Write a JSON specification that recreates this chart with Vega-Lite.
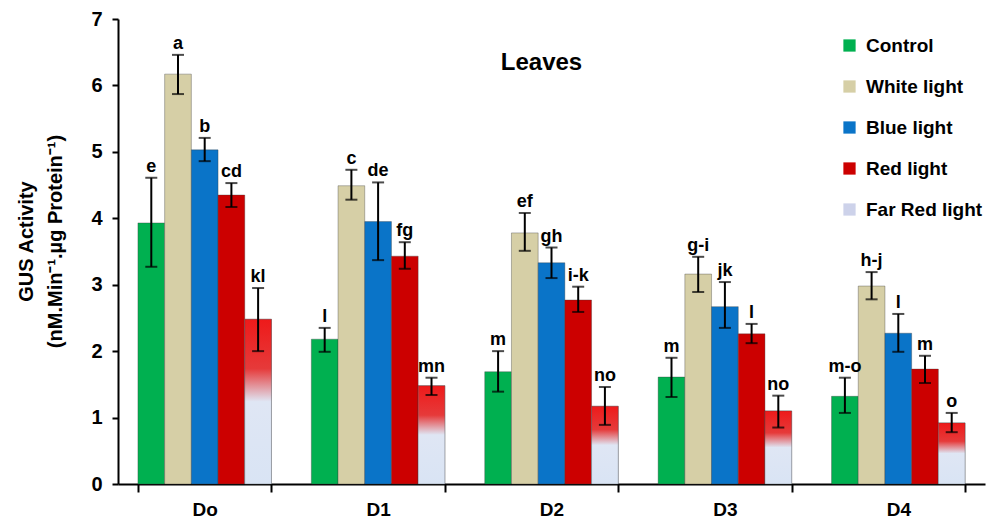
{
  "$schema": "https://vega.github.io/schema/vega-lite/v6.json",
  "width": 867,
  "height": 465,
  "autosize": {"type": "none"},
  "padding": {"left": 118, "top": 19, "right": 1, "bottom": 36},
  "background": "white",
  "config": {"view": {"stroke": null}, "font": "Liberation Sans"},
  "title": {"text": "Leaves", "fontSize": 24, "fontWeight": "bold", "font": "Liberation Sans", "color": "black", "anchor": "middle", "dy": 66, "dx": -10, "offset": 0},
  "data": {"values": [
    {"day": "Do", "treat": "Control", "v": 3.93, "lo": 3.27, "hi": 4.61, "lab": "e"},
    {"day": "Do", "treat": "White light", "v": 6.17, "lo": 5.87, "hi": 6.46, "lab": "a"},
    {"day": "Do", "treat": "Blue light", "v": 5.03, "lo": 4.86, "hi": 5.21, "lab": "b"},
    {"day": "Do", "treat": "Red light", "v": 4.35, "lo": 4.17, "hi": 4.53, "lab": "cd"},
    {"day": "Do", "treat": "Far Red light", "v": 2.48, "lo": 2.0, "hi": 2.95, "lab": "kl"},
    {"day": "D1", "treat": "Control", "v": 2.18, "lo": 1.99, "hi": 2.35, "lab": "l"},
    {"day": "D1", "treat": "White light", "v": 4.49, "lo": 4.28, "hi": 4.73, "lab": "c"},
    {"day": "D1", "treat": "Blue light", "v": 3.95, "lo": 3.37, "hi": 4.54, "lab": "de"},
    {"day": "D1", "treat": "Red light", "v": 3.43, "lo": 3.24, "hi": 3.64, "lab": "fg"},
    {"day": "D1", "treat": "Far Red light", "v": 1.48, "lo": 1.34, "hi": 1.6, "lab": "mn"},
    {"day": "D2", "treat": "Control", "v": 1.69, "lo": 1.39, "hi": 2.0, "lab": "m"},
    {"day": "D2", "treat": "White light", "v": 3.78, "lo": 3.51, "hi": 4.08, "lab": "ef"},
    {"day": "D2", "treat": "Blue light", "v": 3.33, "lo": 3.1, "hi": 3.56, "lab": "gh"},
    {"day": "D2", "treat": "Red light", "v": 2.77, "lo": 2.59, "hi": 2.97, "lab": "i-k"},
    {"day": "D2", "treat": "Far Red light", "v": 1.17, "lo": 0.89, "hi": 1.46, "lab": "no"},
    {"day": "D3", "treat": "Control", "v": 1.61, "lo": 1.31, "hi": 1.9, "lab": "m"},
    {"day": "D3", "treat": "White light", "v": 3.16, "lo": 2.89, "hi": 3.42, "lab": "g-i"},
    {"day": "D3", "treat": "Blue light", "v": 2.67, "lo": 2.35, "hi": 3.04, "lab": "jk"},
    {"day": "D3", "treat": "Red light", "v": 2.26, "lo": 2.12, "hi": 2.41, "lab": "l"},
    {"day": "D3", "treat": "Far Red light", "v": 1.1, "lo": 0.85, "hi": 1.33, "lab": "no"},
    {"day": "D4", "treat": "Control", "v": 1.32, "lo": 1.07, "hi": 1.6, "lab": "m-o"},
    {"day": "D4", "treat": "White light", "v": 2.98, "lo": 2.78, "hi": 3.19, "lab": "h-j"},
    {"day": "D4", "treat": "Blue light", "v": 2.27, "lo": 1.99, "hi": 2.56, "lab": "l"},
    {"day": "D4", "treat": "Red light", "v": 1.73, "lo": 1.52, "hi": 1.93, "lab": "m"},
    {"day": "D4", "treat": "Far Red light", "v": 0.92, "lo": 0.78, "hi": 1.07, "lab": "o"}
  ]},
  "encoding": {
    "x": {
      "field": "day", "type": "nominal", "sort": ["Do", "D1", "D2", "D3", "D4"],
      "scale": {"paddingInner": 0.23, "paddingOuter": 0.115},
      "axis": {"title": null, "labelAngle": 0, "labelFont": "Liberation Sans", "labelFontSize": 19, "labelFontWeight": "bold", "labelColor": "black", "labelPadding": 8, "domainColor": "black", "domainWidth": 2, "tickColor": "black", "tickWidth": 2, "tickSize": 8, "tickBand": "extent"}
    },
    "xOffset": {"field": "treat", "type": "nominal", "sort": ["Control", "White light", "Blue light", "Red light", "Far Red light"], "scale": {"domain": ["Control", "White light", "Blue light", "Red light", "Far Red light"], "paddingInner": 0, "paddingOuter": 0}}
  },
  "layer": [
    {
      "mark": {"type": "bar", "stroke": "#3a3a3a", "strokeWidth": 0.6, "strokeOpacity": 0.6},
      "encoding": {
        "y": {"field": "v", "type": "quantitative",
          "scale": {"domain": [0, 7], "nice": false},
          "axis": {"values": [0, 1, 2, 3, 4, 5, 6, 7], "format": "d", "grid": false, "title": ["GUS Activity", "(nM.Min⁻¹.µg Protein⁻¹)"], "titleFont": "Liberation Sans", "titleFontSize": 20, "titleFontWeight": "bold", "titleColor": "black", "titlePadding": 25, "titleLineHeight": 29, "titleY": 222, "labelFont": "Liberation Sans", "labelFontSize": 20, "labelFontWeight": "bold", "labelColor": "black", "labelPadding": 10, "domainColor": "black", "domainWidth": 2, "tickColor": "black", "tickWidth": 2, "tickSize": 6}},
        "color": {"field": "treat", "type": "nominal",
          "scale": {"domain": ["Control", "White light", "Blue light", "Red light", "Far Red light"], "range": ["#00b050", "#d6cfa6", "#0a74c8", "#cc0000", "#cdd2ea"]},
          "legend": {"title": null, "orient": "none", "legendX": 722, "legendY": 17, "symbolType": "square", "symbolSize": 150, "symbolStrokeWidth": 0, "labelFont": "Liberation Sans", "labelFontSize": 19, "labelFontWeight": "bold", "labelColor": "black", "rowPadding": 21, "labelOffset": 7}}
      }
    },
    {
      "transform": [{"filter": "datum.treat === 'Far Red light'"}],
      "mark": {"type": "bar", "stroke": "#3a3a3a", "strokeWidth": 0.6, "strokeOpacity": 0.5,
        "color": {"gradient": "linear", "x1": 0, "y1": 0, "x2": 0, "y2": 1, "stops": [
          {"offset": 0, "color": "#ee1a1a"},
          {"offset": 0.3, "color": "#e63a3a"},
          {"offset": 0.5, "color": "#dfe6f4"},
          {"offset": 1, "color": "#d9e4f4"}
        ]}},
      "encoding": {"y": {"field": "v", "type": "quantitative"}}
    },
    {
      "mark": {"type": "rule", "color": "black", "strokeWidth": 2},
      "encoding": {"y": {"field": "lo", "type": "quantitative"}, "y2": {"field": "hi"}}
    },
    {
      "mark": {"type": "tick", "color": "black", "thickness": 2, "size": 12},
      "encoding": {"y": {"field": "lo", "type": "quantitative"}}
    },
    {
      "mark": {"type": "tick", "color": "black", "thickness": 2, "size": 12},
      "encoding": {"y": {"field": "hi", "type": "quantitative"}}
    },
    {
      "mark": {"type": "text", "font": "Liberation Sans", "fontSize": 18, "fontWeight": "bold", "color": "black", "baseline": "alphabetic", "dy": -6},
      "encoding": {"y": {"field": "hi", "type": "quantitative"}, "text": {"field": "lab"}}
    }
  ]
}
